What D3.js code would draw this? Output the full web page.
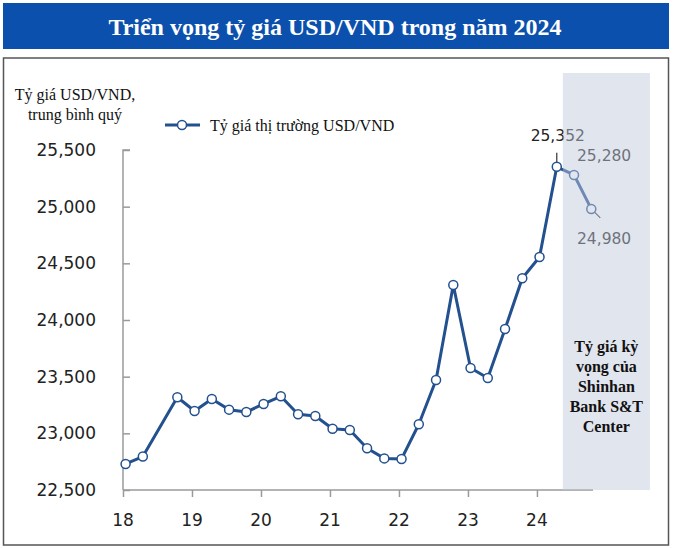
<!DOCTYPE html>
<html>
<head>
<meta charset="utf-8">
<script src="https://cdn.jsdelivr.net/npm/d3@7/dist/d3.min.js"></script>
<style>
  html, body { margin: 0; padding: 0; background: #fff; }
  svg { display: block; }
</style>
</head>
<body>
<svg id="chart" width="673" height="548"></svg>
<script>
// ---- data ----
const title = "Triển vọng tỷ giá USD/VND trong năm 2024";
const yAxisTitle = ["Tỷ giá USD/VND,", "trung bình quý"];
const legendLabel = "Tỷ giá thị trường USD/VND";
const forecastLabel = ["Tỷ giá kỳ", "vọng của", "Shinhan", "Bank S&T", "Center"];

const quarters = ["2018Q1","2018Q2","2018Q4","2019Q1","2019Q2","2019Q3","2019Q4",
  "2020Q1","2020Q2","2020Q3","2020Q4","2021Q1","2021Q2","2021Q3","2021Q4",
  "2022Q1","2022Q2","2022Q3","2022Q4","2023Q1","2023Q2","2023Q3","2023Q4",
  "2024Q1","2024Q2"];
const rates = [22730,22795,23318,23197,23303,23209,23188,
  23259,23327,23168,23153,23041,23029,22868,22779,
  22774,23080,23470,24309,23576,23488,23921,24368,
  24556,25352];

const forecastQuarters = ["2024Q2","2024Q3","2024Q4"];
const forecastRates = [25352,25280,24980];

const yTicks = [22500,23000,23500,24000,24500,25000,25500];
const xTickYears = [2018,2019,2020,2021,2022,2023,2024];
const xTickLabels = ["18","19","20","21","22","23","24"];

// ---- helpers ----
const qIndex = s => (+s.slice(0,4) - 2018) * 4 + (+s.slice(5) - 1);
const pointOffset = 0.15; // points sit slightly right of quarter start

const svg = d3.select("#chart");

const navy = "#23508f";
const axisGray = "#9a9a9a";
const sans = "'DejaVu Sans', sans-serif";
const serif = "'Liberation Serif', 'Times New Roman', serif";

// Title bar
svg.append("rect").attr("x", 3).attr("y", 3).attr("width", 666).attr("height", 46)
  .attr("fill", "#0b50ad");
svg.append("text").attr("x", 335).attr("y", 35).attr("text-anchor", "middle")
  .attr("fill", "#fff").attr("font-family", serif).attr("font-weight", "bold")
  .attr("font-size", 24).text(title);

// frame
svg.append("rect").attr("x", 3.5).attr("y", 58).attr("width", 665).attr("height", 487)
  .attr("fill", "none").attr("stroke", "#555").attr("stroke-width", 1.5);

// scales
const x = d3.scaleLinear().domain([0, 27.25]).range([123, 593]);
const y = d3.scaleLinear().domain([22500, 25500]).range([490, 150]);

// y axis
const yAxis = svg.append("g").attr("transform", `translate(${x(0)},0)`)
  .call(d3.axisRight(y).tickValues(yTicks).tickSize(7).tickFormat(""));
yAxis.select(".domain").attr("stroke", axisGray).attr("stroke-width", 1.5)
  .attr("d", `M7,${y(25500)}H0V${y(22500)}`);
yAxis.selectAll(".tick line").attr("stroke", axisGray).attr("stroke-width", 1.5);

svg.append("g").selectAll("text").data(yTicks).join("text")
  .attr("x", 96).attr("y", d => y(d)).attr("dy", "0.36em")
  .attr("text-anchor", "end").attr("font-family", sans).attr("font-size", 17)
  .attr("fill", "#222").text(d => d3.format(",")(d));

// x axis
const xAxis = svg.append("g").attr("transform", `translate(0,${y(22500)})`)
  .call(d3.axisBottom(x).tickValues(xTickYears.map(yr => (yr - 2018) * 4))
    .tickSize(7).tickFormat(""));
xAxis.select(".domain").attr("stroke", axisGray).attr("stroke-width", 1.5)
  .attr("d", `M${x(0)},0H${x(27.25)}`);
xAxis.selectAll(".tick line").attr("stroke", axisGray).attr("stroke-width", 1.5);

svg.append("g").selectAll("text").data(xTickYears).join("text")
  .attr("x", d => x((d - 2018) * 4)).attr("y", 520).attr("dy", "0.36em")
  .attr("text-anchor", "middle").attr("font-family", sans).attr("font-size", 17)
  .attr("fill", "#222").text((d, i) => xTickLabels[i]);

// y axis title
svg.append("g").selectAll("text").data(yAxisTitle).join("text")
  .attr("x", 75).attr("y", (d, i) => 100 + i * 20).attr("text-anchor", "middle")
  .attr("font-family", serif).attr("font-size", 16).attr("fill", "#111").text(d => d);

// legend
svg.append("line").attr("x1", 165).attr("x2", 200).attr("y1", 125).attr("y2", 125)
  .attr("stroke", navy).attr("stroke-width", 3);
svg.append("circle").attr("cx", 182).attr("cy", 125).attr("r", 4.5)
  .attr("fill", "#fff").attr("stroke", navy).attr("stroke-width", 1.5);
svg.append("text").attr("x", 210).attr("y", 125).attr("dy", "0.35em")
  .attr("font-family", serif).attr("font-size", 16).attr("fill", "#111").text(legendLabel);

// series
const hist = quarters.map((q, i) => ({ t: qIndex(q) + pointOffset, v: rates[i] }));
const fc = forecastQuarters.map((q, i) => ({ t: qIndex(q) + pointOffset, v: forecastRates[i] }));
const line = d3.line().x(d => x(d.t)).y(d => y(d.v));

svg.append("path").datum(fc).attr("d", line).attr("fill", "none")
  .attr("stroke", navy).attr("stroke-width", 3).attr("stroke-linejoin", "round");
svg.append("path").datum(hist).attr("d", line).attr("fill", "none")
  .attr("stroke", navy).attr("stroke-width", 3).attr("stroke-linejoin", "round");

// annotation leaders
const peak = hist[hist.length - 1];
svg.append("line").attr("x1", x(peak.t)).attr("x2", x(peak.t))
  .attr("y1", y(peak.v) - 14).attr("y2", y(peak.v)).attr("stroke", "#333").attr("stroke-width", 1.2);
const last = fc[fc.length - 1];
svg.append("line").attr("x1", x(last.t)).attr("y1", y(last.v))
  .attr("x2", x(last.t) + 9).attr("y2", y(last.v) + 9).attr("stroke", "#333").attr("stroke-width", 1.2);

svg.append("g").selectAll("circle").data(hist.concat(fc.slice(1))).join("circle")
  .attr("cx", d => x(d.t)).attr("cy", d => y(d.v)).attr("r", 4.5)
  .attr("fill", "#fff").attr("stroke", navy).attr("stroke-width", 1.5);

// value labels
const fmt = d3.format(",");
svg.append("text").attr("x", x(peak.t) + 1).attr("y", y(peak.v) - 31).attr("dy", "0.36em")
  .attr("text-anchor", "middle").attr("font-family", sans).attr("font-size", 15.5)
  .attr("fill", "#222").text(fmt(peak.v));
svg.append("text").attr("x", 577).attr("y", 155).attr("dy", "0.36em")
  .attr("font-family", sans).attr("font-size", 15.5).attr("fill", "#222").text(fmt(fc[1].v));
svg.append("text").attr("x", 577).attr("y", 238).attr("dy", "0.36em")
  .attr("font-family", sans).attr("font-size", 15.5).attr("fill", "#222").text(fmt(fc[2].v));

// forecast shade (translucent overlay)
svg.append("rect").attr("x", x(25.5)).attr("y", 73)
  .attr("width", x(30.55) - x(25.5)).attr("height", y(22500) - 73)
  .attr("fill", "rgb(193,200,219)").attr("fill-opacity", 0.48);

svg.append("g").selectAll("text").data(forecastLabel).join("text")
  .attr("x", (x(25.5) + x(30.55)) / 2).attr("y", (d, i) => 346 + i * 20).attr("dy", "0.35em")
  .attr("text-anchor", "middle").attr("font-family", serif).attr("font-weight", "bold")
  .attr("font-size", 16).attr("fill", "#111").text(d => d);
</script>
</body>
</html>
